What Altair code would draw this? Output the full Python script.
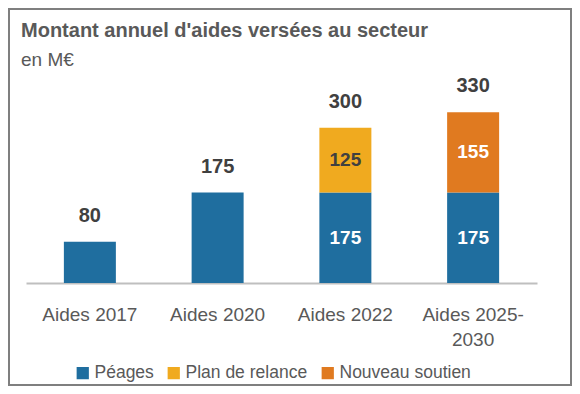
import altair as alt
import pandas as pd

# ---- data ----
categories = ["Aides 2017", "Aides 2020", "Aides 2022", "Aides 2025-\n2030"]
series = ["Péages", "Plan de relance", "Nouveau soutien"]
peages = [80, 175, 175, 175]
plan_de_relance = [0, 0, 125, 0]
nouveau_soutien = [0, 0, 0, 155]
colors = ["#1F6E9F", "#F0AA1F", "#E07A20"]
title_text = "Montant annuel d'aides versées au secteur"
subtitle_text = "en M€"

rows = []
for i, c in enumerate(categories):
    for k, (s, vals) in enumerate(zip(series, [peages, plan_de_relance, nouveau_soutien])):
        if vals[i] > 0:
            rows.append({"cat": c, "serie": s, "order": k, "value": vals[i]})
df = pd.DataFrame(rows)
nseg = df.groupby("cat")["serie"].transform("count")
df["stacked"] = nseg > 1

FONT = "Liberation Sans"
PLOT_W, PLOT_H = 511, 181

base = alt.Chart(df)

x_enc = alt.X(
    "cat:N",
    sort=categories,
    scale=alt.Scale(paddingInner=0.593, paddingOuter=0.2965),
    axis=alt.Axis(
        title=None, labelAngle=0, ticks=False, grid=False,
        domainColor="#BFBFBF", domainWidth=2,
        labelFontSize=19, labelColor="#595959", labelFont=FONT,
        labelPadding=22, labelLineHeight=25,
        labelExpr="split(datum.label, '\\n')",
    ),
)
y_scale = alt.Scale(domain=[0, 350])

bars = base.mark_bar().encode(
    x=x_enc,
    y=alt.Y("value:Q", stack="zero", scale=y_scale, axis=None),
    color=alt.Color(
        "serie:N",
        scale=alt.Scale(domain=series, range=colors),
        legend=alt.Legend(
            orient="none", legendX=48, legendY=262, direction="horizontal",
            title=None, symbolType="square", symbolSize=150, symbolStrokeWidth=0,
            labelFontSize=17.5, labelColor="#595959", labelFont=FONT,
            labelOffset=3, columnPadding=11, padding=0,
        ),
    ),
    order=alt.Order("order:Q"),
)

inner = (
    base.transform_filter("datum.stacked")
    .transform_stack(stack="value", groupby=["cat"], sort=[alt.SortField("order")], as_=["v0", "v1"])
    .transform_calculate(mid="(datum.v0 + datum.v1) / 2")
    .mark_text(font=FONT, fontSize=19, fontWeight="bold", baseline="middle")
    .encode(
        x=alt.X("cat:N", sort=categories),
        y=alt.Y("mid:Q", scale=y_scale),
        text="value:Q",
        color=alt.condition(alt.datum.serie == "Plan de relance", alt.value("#404040"), alt.value("white")),
    )
)

totals = (
    base.transform_aggregate(total="sum(value)", groupby=["cat"])
    .mark_text(font=FONT, fontSize=20, fontWeight="bold", baseline="alphabetic", dy=-20, color="#404040")
    .encode(
        x=alt.X("cat:N", sort=categories),
        y=alt.Y("total:Q", scale=y_scale),
        text="total:Q",
    )
)

title = (
    alt.Chart(alt.Data(values=[{"t": title_text}]))
    .mark_text(font=FONT, fontSize=20, fontWeight="bold", color="#595959", align="left", baseline="alphabetic")
    .encode(x=alt.value(-5), y=alt.value(-65), text="t:N")
)
subtitle = (
    alt.Chart(alt.Data(values=[{"t": subtitle_text}]))
    .mark_text(font=FONT, fontSize=19, color="#595959", align="left", baseline="alphabetic")
    .encode(x=alt.value(-5), y=alt.value(-36), text="t:N")
)

frame = (
    alt.Chart(alt.Data(values=[{}]))
    .mark_rect(fillOpacity=0, stroke="#7F7F7F", strokeWidth=2)
    .encode(x=alt.value(-17), x2=alt.value(545), y=alt.value(-93), y2=alt.value(283))
)

chart = (
    alt.layer(bars, inner, totals, title, subtitle, frame)
    .properties(
        width=PLOT_W,
        height=PLOT_H,
        autosize=alt.AutoSizeParams(type="none"),
        padding={"left": 18, "top": 94, "right": 35, "bottom": 103},
    )
    .configure(font=FONT)
    .configure_view(strokeWidth=0, stroke="transparent")
)

chart.save("out.html", embed_options={"renderer": "svg", "actions": False})
